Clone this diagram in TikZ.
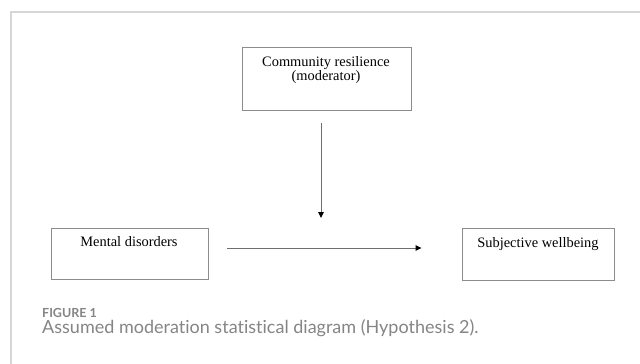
\documentclass[tikz,border=0pt]{standalone}
\usepackage{fontspec}
\setmainfont{Liberation Serif}
\newfontfamily\capfont[Ligatures={NoCommon}]{Lato}
\usetikzlibrary{arrows.meta}
\definecolor{framegray}{HTML}{D6D6D6}
\definecolor{boxgray}{HTML}{8C8C8C}
\definecolor{linegray}{HTML}{6E6E6E}
\definecolor{capgray}{HTML}{858585}
\begin{document}
\begin{tikzpicture}[x=1pt,y=-1pt,
  box/.style={draw=boxgray, line width=0.9pt, inner sep=0pt},
  txt/.style={inner sep=0pt, anchor=base, font=\fontsize{14.4}{15}\selectfont},
  arr/.style={draw=linegray, line width=0.9pt, -{Triangle[length=6pt,width=5.5pt,fill=black,color=black]}},
  figlab/.style={inner sep=0pt, anchor=base west, text=capgray, font=\capfont\bfseries\fontsize{12.5}{14}\selectfont},
  captxt/.style={inner sep=0pt, anchor=base west, text=capgray, font=\capfont\fontsize{18}{20}\selectfont}
]
\useasboundingbox (0,0) rectangle (640,364);
\fill[white] (0,0) rectangle (640,364);
% frame
\draw[framegray, line width=1.3pt] (11,364) -- (11,12) -- (640,12);
% boxes
\node[box, minimum width=169pt, minimum height=63pt] (mod) at (326.5,78.5) {};
\node[box, minimum width=157pt, minimum height=51pt] (md) at (129.5,253.5) {};
\node[box, minimum width=152pt, minimum height=52pt] (sw) at (538,254) {};
% texts
\node[txt] (modt1) at (326,66) {Community resilience};
\node[txt] (modt2) at (326,80) {(moderator)};
\node[txt] (mdt) at (129,246) {Mental disorders};
\node[txt] (swt) at (538,247) {Subjective wellbeing};
% arrows
\coordinate (vs) at (321,123);
\coordinate (ve) at (321,218);
\draw[arr] (vs) -- (ve);
\draw[arr] ([xshift=19pt]md.east |- 0,248) coordinate (hs) -- ([xshift=-40pt]sw.west |- 0,248) coordinate (he);
% caption
\node[figlab] (fig) at (42,317) {FIGURE 1};
\node[captxt] (cap) at (42,333) {Assumed moderation statistical diagram (Hypothesis 2).};
\end{tikzpicture}
\end{document}
